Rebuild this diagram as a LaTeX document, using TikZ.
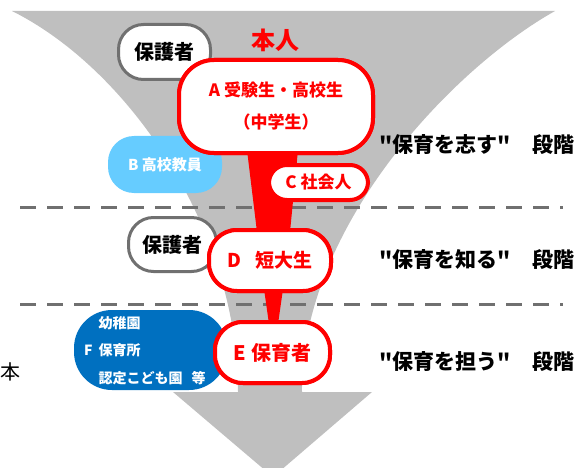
\documentclass[tikz,border=0pt]{standalone}
\usepackage{fontspec}
\newfontfamily\jp{Noto Sans CJK JP}
\usetikzlibrary{calc}
\definecolor{funnelgray}{HTML}{BFBFBF}
\definecolor{bordergray}{HTML}{707070}
\definecolor{lightblue}{HTML}{66CCFF}
\definecolor{darkblue}{HTML}{0070C0}
\definecolor{myred}{HTML}{FF0000}
\begin{document}
\begin{tikzpicture}[x=1pt,y=-1pt,
  graybox/.style={draw=bordergray, line width=3pt, fill=white, rounded corners=25pt,
    inner sep=0pt, text=black, font=\jp\fontsize{20}{20}\selectfont\bfseries},
  redbox/.style={draw=myred, line width=4pt, fill=white, inner sep=0pt, text=myred,
    align=center},
  dashline/.style={draw=bordergray, line width=3pt, dash pattern=on 16pt off 11pt},
  stagelabel/.style={anchor=west, inner sep=0pt, text=black, font=\jp\fontsize{21}{21}\selectfont\bfseries},
  stem/.style={fill=myred}
]
\useasboundingbox (0,0) rectangle (586,468);

% funnel
\fill[funnelgray] (12,11) -- (555,11) .. controls (450,70) and (300,230) .. (302,392)
  -- (372,392) -- (273,477) -- (173,392) -- (238,392)
  .. controls (238,230) and (130,70) .. (12,11) -- cycle;

% dashed dividers
\coordinate (d1l) at (20,207);
\coordinate (d1r) at (563,207);
\coordinate (d2l) at (20,304.5);
\coordinate (d2r) at (563,304.5);
\draw[dashline] (d1l) -- (d1r);
\draw[dashline] (d2l) -- (d2r);

% side boxes (behind main boxes)
\node[graybox, minimum width=92pt, minimum height=55pt] (g1) at (164.5,52) {保護者};
\node[graybox, minimum width=88pt, minimum height=54pt] (g2) at (172.5,244.5) {保護者};
\node[fill=lightblue, rounded corners=26pt, minimum width=114pt, minimum height=57pt, inner sep=0pt,
  text=white, font=\jp\fontsize{15}{15}\selectfont\bfseries] (B) at (165,164.5) {B 高校教員};
\node[fill=darkblue, rounded corners=38pt, minimum width=153pt, minimum height=80pt, inner sep=0pt] (F) at (150.5,350) {};
\node[anchor=west, inner sep=0pt, text=white, font=\jp\fontsize{14}{27.5}\selectfont\bfseries] (Ft) at (84,350)
  {\begin{tabular}{@{}r@{\hspace{6pt}}l@{}} & 幼稚園\\ F & 保育所\\ & 認定こども園\hspace{9pt}等\end{tabular}};

% main boxes (placed first to define anchors)
\node[redbox, rounded corners=35pt, minimum width=194pt, minimum height=93pt,
  font=\jp\fontsize{17}{32}\selectfont\bfseries] (A) at (276,106.5) {A 受験生・高校生\\（中学生）};
\node[redbox, rounded corners=28pt, minimum width=122pt, minimum height=61pt,
  font=\jp\fontsize{19}{19}\selectfont\bfseries] (D) at (270,260.5) {D\hspace{0.7em}短大生};
\node[redbox, rounded corners=28pt, minimum width=115pt, minimum height=61pt,
  font=\jp\fontsize{20}{20}\selectfont\bfseries] (E) at (272.5,352.5) {E 保育者};

% red stems
\fill[stem] ([xshift=-29pt,yshift=5pt]A.south) -- ([xshift=22pt,yshift=5pt]A.south)
  -- ([xshift=20pt,yshift=-4pt]D.north) -- ([xshift=-13pt,yshift=-4pt]D.north) -- cycle;
\fill[stem] ([xshift=-6pt,yshift=4pt]D.south) -- ([xshift=13pt,yshift=4pt]D.south)
  -- ([xshift=5.5pt,yshift=-4pt]E.north) -- ([xshift=-3.5pt,yshift=-4pt]E.north) -- cycle;

% redraw main boxes over stems
\node[redbox, rounded corners=35pt, minimum width=194pt, minimum height=93pt,
  font=\jp\fontsize{17}{32}\selectfont\bfseries] (A2) at (A) {A 受験生・高校生\\（中学生）};
\node[redbox, rounded corners=18pt, minimum width=99pt, minimum height=35pt,
  font=\jp\fontsize{17}{17}\selectfont\bfseries] (C) at (318.5,182.5) {C 社会人};
\node[redbox, rounded corners=28pt, minimum width=122pt, minimum height=61pt,
  font=\jp\fontsize{19}{19}\selectfont\bfseries] (D2) at (D) {D\hspace{0.7em}短大生};
\node[redbox, rounded corners=28pt, minimum width=115pt, minimum height=61pt,
  font=\jp\fontsize{20}{20}\selectfont\bfseries] (E2) at (E) {E 保育者};

% title
\node[text=myred, font=\jp\fontsize{24}{24}\selectfont\bfseries, inner sep=0pt] (honin) at (275,40) {本人};

% stage labels
\node[stagelabel] (L1) at (379,145) {"保育を志す"\hspace{22pt}段階};
\node[stagelabel] (L2) at (379,260) {"保育を知る"\hspace{22pt}段階};
\node[stagelabel] (L3) at (379,362) {"保育を担う"\hspace{22pt}段階};

% character at left edge
\node[inner sep=0pt, font=\jp\fontsize{20}{20}\selectfont] (stray) at (10.5,372) {本};
\end{tikzpicture}
\end{document}
